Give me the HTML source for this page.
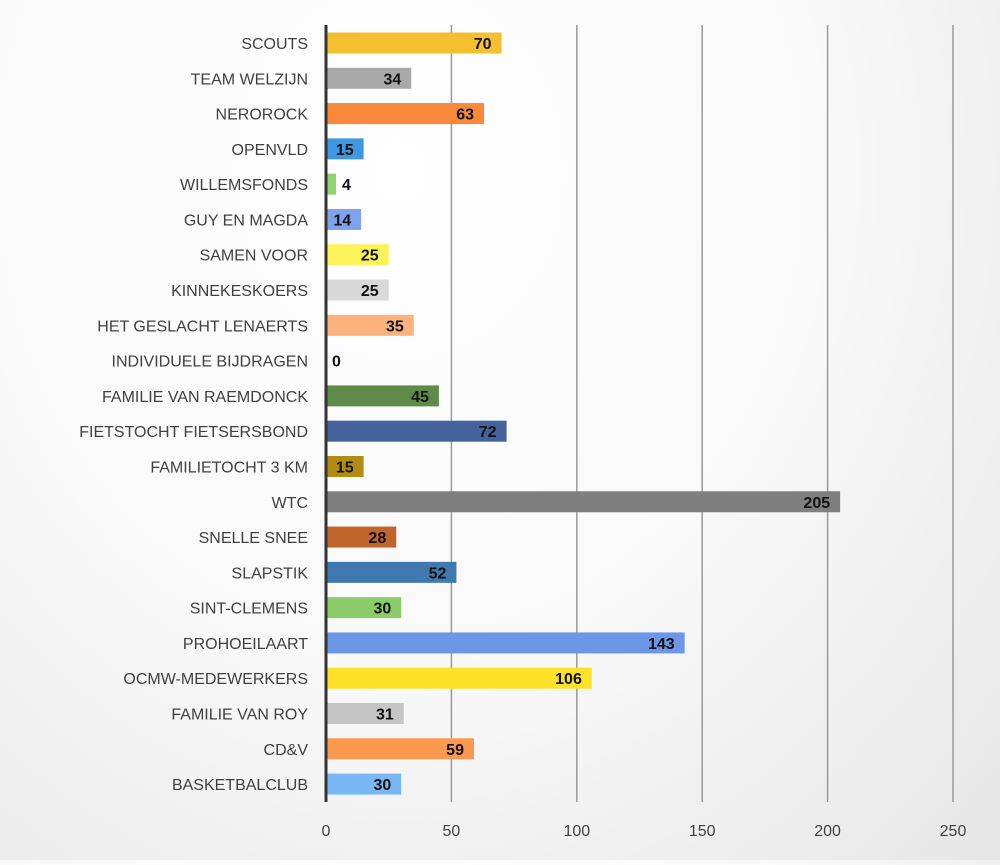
<!DOCTYPE html>
<html><head><meta charset="utf-8"><style>
body{margin:0;width:1000px;height:860px;overflow:hidden;background:radial-gradient(ellipse at 40% 20%,#ffffff 0%,#f9f9f9 50%,#e6e6e6 100%);font-family:"Liberation Sans",sans-serif}
</style></head><body>
<svg id="chart" width="1000" height="860" xmlns="http://www.w3.org/2000/svg"></svg>
<script>
const categories=["SCOUTS","TEAM WELZIJN","NEROROCK","OPENVLD","WILLEMSFONDS","GUY EN MAGDA","SAMEN VOOR","KINNEKESKOERS","HET GESLACHT LENAERTS","INDIVIDUELE BIJDRAGEN","FAMILIE VAN RAEMDONCK","FIETSTOCHT FIETSERSBOND","FAMILIETOCHT 3 KM","WTC","SNELLE SNEE","SLAPSTIK","SINT-CLEMENS","PROHOEILAART","OCMW-MEDEWERKERS","FAMILIE VAN ROY","CD&V","BASKETBALCLUB"];
const values=[70,34,63,15,4,14,25,25,35,0,45,72,15,205,28,52,30,143,106,31,59,30];
const colors=["#f4c030","#a9a9a9","#f9893a","#3e97e0","#8ed46f","#7ea3ec","#fff35a","#d9d9d9","#fbb27c","#ffffff","#5f8b49","#44629c","#b38d12","#7f7f7f","#c0652c","#3f79b0","#89cc69","#6c97e6","#fde228","#c6c6c6","#fb9a4f","#79b8f2"];
const ticks=[0,50,100,150,200,250];
const NS="http://www.w3.org/2000/svg";
const svg=document.getElementById("chart");
const x0=326,x1=953,vmax=250,top0=43,step=35.29,bh=21,gTop=25,gBot=802;
const xs=v=>x0+(x1-x0)*v/vmax;
const ys=i=>top0+i*step;
function mk(t,a){const e=document.createElementNS(NS,t);for(const k in a)e.setAttribute(k,a[k]);svg.appendChild(e);return e;}
ticks.forEach(t=>{
  if(t>0){const l=mk("line",{x1:xs(t),x2:xs(t),y1:gTop,y2:gBot,stroke:"#9a9a9a","stroke-width":1.5});
  
  }
  const tx=mk("text",{x:xs(t),y:836,"text-anchor":"middle","font-size":16,fill:"#404040"});
  tx.textContent=t;
  
  
});
categories.forEach((c,i)=>{
  const y=ys(i);
  const lb=mk("text",{x:308,y:y+6,"text-anchor":"end","font-size":16,fill:"#404040"});
  lb.textContent=c;
  
  
  const w=xs(values[i])-x0;
  const r=mk("rect",{x:x0,y:y-bh/2,width:w,height:bh,fill:colors[i]});
  
  
  const inside=w>30;
  const vt=mk("text",{x:inside?xs(values[i])-10:xs(values[i])+6,y:y+6,"text-anchor":inside?"end":"start","font-size":16,"font-weight":"bold",fill:"#111"});
  vt.textContent=values[i];
  
  
});
const ax=mk("line",{x1:x0,x2:x0,y1:gTop,y2:gBot,stroke:"#333","stroke-width":3});


</script>
</body></html>
